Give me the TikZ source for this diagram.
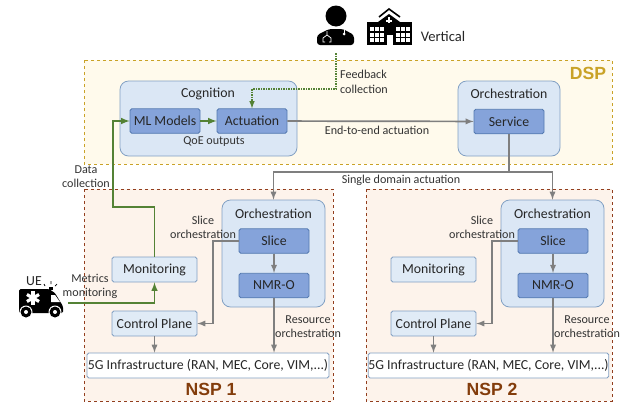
\documentclass[tikz,border=0pt]{standalone}
\usepackage{fontspec}
\setmainfont{Carlito}
\newfontfamily\labelBold{Liberation Sans}
\definecolor{dspEdge}{RGB}{201,162,39}
\definecolor{dspFill}{RGB}{255,250,236}
\definecolor{nspEdge}{RGB}{146,62,30}
\definecolor{nspFill}{RGB}{253,243,235}
\definecolor{nspText}{RGB}{131,60,11}
\definecolor{paleBlue}{RGB}{219,231,245}
\definecolor{paleEdge}{RGB}{130,160,195}
\definecolor{midBlue}{RGB}{133,163,218}
\definecolor{midEdge}{RGB}{84,122,176}
\definecolor{lineGray}{RGB}{127,127,127}
\definecolor{lineGreen}{RGB}{84,130,53}
\tikzstyle{pixelGrid} = [x = 1pt, y = -1pt, >=latex]
\tikzstyle{dspFrame} = [draw=dspEdge, fill=dspFill, dashed, line width=1pt]
\tikzstyle{nspFrame} = [draw=nspEdge, fill=nspFill, dashed, line width=1pt]
\tikzstyle{smallText} = [font=\fontsize{12.1}{14.5}\selectfont, align=center, inner sep=0pt, text=black!80]
\tikzstyle{titleText} = [font=\fontsize{13.8}{15}\selectfont, inner sep=0pt, text=black!85]
\tikzstyle{paleGroup} = [draw=paleEdge, fill=paleBlue, rounded corners=.3cm, line width=.8pt, inner sep=0pt]
\tikzstyle{paleBox} = [draw=paleEdge, fill=paleBlue!85!white, rounded corners=.06cm, line width=.8pt, minimum width=85pt, minimum height=25pt, inner sep=0pt, font=\fontsize{13.8}{15}\selectfont, text=black!85]
\tikzstyle{midBox} = [draw=midEdge, fill=midBlue, rounded corners=.06cm, line width=.8pt, minimum width=70pt, minimum height=24.5pt, inner sep=0pt, font=\fontsize{13.8}{15}\selectfont, text=black!85]
\tikzstyle{infraBox} = [draw=paleEdge, fill=white, rounded corners=.06cm, line width=.8pt, minimum height=25pt, inner sep=0pt, font=\fontsize{13.8}{15}\selectfont, text=black!85]
\tikzstyle{domainText} = [font=\labelBold\fontsize{17.6}{19}\bfseries\selectfont, inner sep=0pt]
\tikzstyle{grayLine} = [draw=lineGray, line width=1.7pt, ->]
\tikzstyle{greenLine} = [draw=lineGreen, line width=1.9pt, ->]
\tikzstyle{feedbackLine} = [draw=lineGreen, line width=1.5pt, densely dotted, ->]
\newcommand{\nspBoxes}[2]{
  \begin{scope}[xshift=#2pt]
    \node [paleGroup, minimum width=103pt, minimum height=107pt] (#1Orch) at (273.5,253.5) {};
    \node [titleText] (#1OrchTitle) at (273.5,213.5) {Orchestration};
    \node [midBox] (#1Slice) at (274,241) {Slice};
    \node [midBox] (#1Nmr) at (274,285.5) {NMR-O};
    \node [paleBox] (#1Monitoring) at (154.5,269.5) {Monitoring};
    \node [paleBox] (#1Control) at (154.5,323.5) {Control Plane};
    \coordinate (#1SliceBend) at (213,241);
    \draw [grayLine] (#1Slice) -- (#1Nmr);
    \draw [grayLine] (#1Slice.west) -- (#1SliceBend) |- (#1Control.east);
    \node [smallText] (#1SliceLabel) at (203,227.5) {Slice\\orchestration};
    \node [smallText] (#1ResourceLabel) at (308,326.5) {Resource\\orchestration};
  \end{scope}
}
\begin{document}
\begin{tikzpicture}[pixelGrid]
  \useasboundingbox (0,0) rectangle (626,402);
  % domains
  \draw [dspFrame] (84,60) rectangle (612,164);
  \draw [nspFrame] (84,189) rectangle (333,401);
  \draw [nspFrame] (366,189) rectangle (612,401);
  \node [domainText, text=dspEdge] (dspName) at (588,73) {DSP};
  \node [domainText, text=nspText] (nspOneName) at (211,389) {NSP 1};
  \node [domainText, text=nspText] (nspTwoName) at (492,389) {NSP 2};

  % cognition and service orchestration
  \node [paleGroup, minimum width=177pt, minimum height=75pt] (cognition) at (208.5,118.5) {};
  \node [titleText] (cognitionTitle) at (208,94) {Cognition};
  \node [midBox] (mlModels) at (165,121) {ML Models};
  \node [midBox] (actuation) at (252,121) {Actuation};
  \node [smallText] (qoeLabel) at (214,142) {QoE outputs};
  \node [paleGroup, minimum width=102pt, minimum height=75pt] (dspOrch) at (509,118.5) {};
  \node [titleText] (dspOrchTitle) at (509,94) {Orchestration};
  \node [midBox] (service) at (509,121.5) {Service};

  % both nsp
  \nspBoxes{nspOne}{0}
  \nspBoxes{nspTwo}{279}
  \node [infraBox, minimum width=242pt] (nspOneInfra) at (208,365.5) {5G Infrastructure (RAN, MEC, Core, VIM,...)};
  \node [infraBox, minimum width=237pt] (nspTwoInfra) at (488.5,365.5) {5G Infrastructure (RAN, MEC, Core, VIM,...)};
  \draw [grayLine] (nspOneControl.south) -- (nspOneControl.south |- nspOneInfra.north);
  \draw [grayLine] (nspTwoControl.south) -- (nspTwoControl.south |- nspTwoInfra.north);
  \draw [grayLine] (nspOneNmr.south) -- (nspOneNmr.south |- nspOneInfra.north);
  \draw [grayLine] (nspTwoNmr.south) -- (nspTwoNmr.south |- nspTwoInfra.north);

  % connectors
  \coordinate (splitPoint) at (509,172);
  \coordinate (dataBend) at (113,207);
  \coordinate (ueExit) at (68,303);
  \coordinate (doctorFoot) at (336,53);
  \coordinate (feedbackBend) at (336,89);
  \draw [grayLine] (actuation) -- (service);
  \draw [grayLine] (splitPoint) -| (nspOneOrch.north);
  \draw [grayLine] (splitPoint) -| (nspTwoOrch.north);
  \draw [grayLine, -] (service) -- (splitPoint);
  \draw [greenLine] (mlModels) -- (actuation);
  \draw [greenLine] (nspOneMonitoring.north) |- (dataBend) |- (mlModels.west);
  \draw [greenLine] (ueExit) -| (nspOneMonitoring.south);
  \draw [feedbackLine] (doctorFoot) -- (feedbackBend) -| (actuation.north);

  % labels
  \node [smallText] (e2eLabel) at (377,130) {End-to-end actuation};
  \node [smallText] (singleLabel) at (401,180) {Single domain actuation};
  \node [smallText, align=left] (feedbackLabel) at (364,82) {Feedback\\collection};
  \node [smallText] (dataLabel) at (86,176.5) {Data\\collection};
  \node [smallText] (metricsLabel) at (90,286.5) {Metrics\\monitoring};
  \node [titleText] (ueLabel) at (34,281) {UE};
  \node [titleText, font=\fontsize{14.6}{16}\selectfont] (verticalLabel) at (443,36) {Vertical};

  % doctor
  \fill (336,16) circle (10.5);
  \fill [rounded corners=3pt] (317,45) -- (317,35) -- (329,29) -- (343,29) -- (354,35) -- (354,45) -- cycle;
  \draw [white, line width=.7pt] (327,31) -- (327,35) (325,42) -- (323,42) -- (323,38) -- (327,35) -- (331,38) -- (331,42) -- (329,42);
  \draw [white, line width=.7pt] (344,30) -- (344,33);
  \fill [white] (344,34) circle (1.5);

  % hospital
  \fill (367,22) rectangle (412,45);
  \fill (389,14) -- (400,22) -- (378,22) -- cycle;
  \draw [line width=1.6pt] (379,17) -- (389,9) -- (400,17);
  \fill [white] (387.7,17) rectangle (390.3,23);
  \fill [white] (386,19.7) rectangle (392,22.3);
  \fill [white] (387,35) rectangle (393,45);
  \foreach \column in {0,1,2} {
    \foreach \row in {0,1,2} {
      \fill [white] (370 + \column * 5, 27 + \row * 5.5) rectangle +(3.5,4);
      \fill [white] (396 + \column * 5, 27 + \row * 5.5) rectangle +(3.5,4);
    }
  }

  % ambulance
  \fill [rounded corners=1.5pt] (19,313) -- (19,289) -- (49,289) -- (55,293) -- (61,303) -- (63,306) -- (63,313) -- cycle;
  \fill [white] (51,295) -- (55,295) -- (60,302) -- (51,302) -- cycle;
  \foreach \spoke in {0,60,120} {
    \fill [white, rotate around={\spoke:(33,298)}] (31.4,291) rectangle (34.6,305);
  }
  \foreach \wheel in {26,55} {
    \fill [white] (\wheel,312) circle (6.5);
    \fill (\wheel,312) circle (5.5);
    \fill [white] (\wheel,312) circle (2);
  }
  \fill (49,287) rectangle (53,290);
  \draw [line width=.7pt] (44,284) -- (45,286) (51,281) -- (51,284) (57,284) -- (55,286);
\end{tikzpicture}
\end{document}
